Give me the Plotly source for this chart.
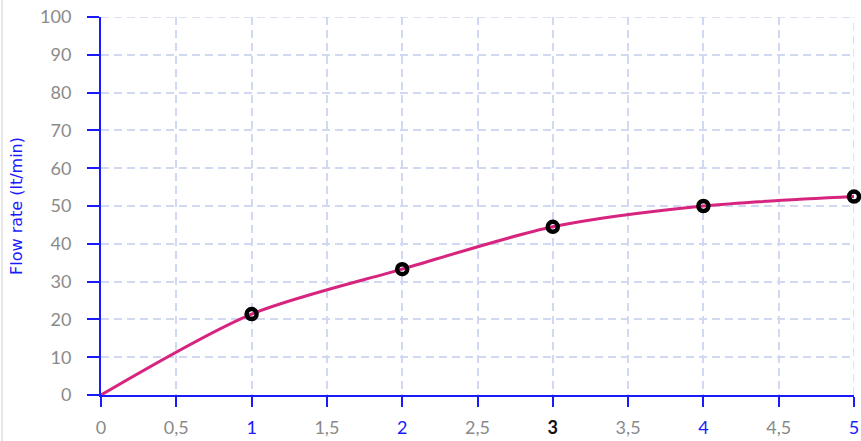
import plotly.graph_objects as go

x_vals = [0, 1, 2, 3, 4, 5]
flow = [0, 21.4, 33.3, 44.5, 50.0, 52.5]
marker_x = [1, 2, 3, 4, 5]
marker_y = [21.4, 33.3, 44.5, 50.0, 52.5]

x_ticks = [0, 0.5, 1, 1.5, 2, 2.5, 3, 3.5, 4, 4.5, 5]
x_tick_text = ["0", "0,5", "<span style='color:#1a1aff'>1</span>", "1,5",
               "<span style='color:#1a1aff'>2</span>", "2,5",
               "<b><span style='color:#111111'>3</span></b>", "3,5",
               "<span style='color:#1a1aff'>4</span>", "4,5",
               "<span style='color:#1a1aff'>5</span>"]
y_ticks = [0, 10, 20, 30, 40, 50, 60, 70, 80, 90, 100]

FONT = "Lato, 'Noto Sans', sans-serif"
GRID = "#d0d8f2"
GRIDDASH = "8px,5px"

fig = go.Figure()
fig.add_trace(go.Scatter(x=x_vals, y=flow, mode="lines",
                         line=dict(color="#d6247f", width=3, shape="spline", smoothing=0.8),
                         showlegend=False, hoverinfo="skip", cliponaxis=False))
fig.add_trace(go.Scatter(x=marker_x, y=marker_y, mode="markers",
                         marker=dict(symbol="circle-open", size=10, color="#000000",
                                     line=dict(width=4.5, color="#000000")),
                         showlegend=False, cliponaxis=False))

fig.update_layout(
    width=861, height=441,
    margin=dict(l=101, r=7, t=17, b=46, autoexpand=False),
    paper_bgcolor="white", plot_bgcolor="white",
    font=dict(family=FONT, size=18, color="#8a8a8a"),
    xaxis=dict(range=[0, 5], tickvals=x_ticks, ticktext=x_tick_text, automargin=False,
               showgrid=True, gridcolor=GRID, griddash=GRIDDASH, gridwidth=1.5,
               showline=True, linecolor="#1a1aff", linewidth=2,
               ticks="outside", ticklen=10, tickwidth=2, tickcolor="#1a1aff",
               ticklabelstandoff=5, zeroline=False, ticklabeloverflow="allow",
               tickfont=dict(family=FONT, size=18, color="#8a8a8a")),
    yaxis=dict(range=[0, 100], tickvals=y_ticks, automargin=False,
               showgrid=True, gridcolor=GRID, griddash=GRIDDASH, gridwidth=1.5,
               showline=True, linecolor="#1a1aff", linewidth=2,
               ticks="outside", ticklen=12, tickwidth=2, tickcolor="#1a1aff",
               ticklabelstandoff=12, zeroline=False, ticklabeloverflow="allow",
               title=dict(text="Flow rate (lt/min)", standoff=13,
                          font=dict(family="DejaVu Sans, sans-serif", size=16, color="#1a1aff")),
               tickfont=dict(family=FONT, size=18, color="#8a8a8a")),
    shapes=[
        dict(type="line", xref="paper", yref="paper",
             x0=-0.1315, x1=-0.1315, y0=-0.2, y1=1.1,
             line=dict(color="#cccccc", width=1)),
        dict(type="line", xref="paper", yref="y", x0=0, x1=1,
             y0=max(y_ticks), y1=max(y_ticks), layer="below",
             line=dict(color=GRID, width=1.5, dash=GRIDDASH)),
        dict(type="line", xref="x", yref="paper", x0=max(x_ticks), x1=max(x_ticks),
             y0=0, y1=1, layer="below",
             line=dict(color=GRID, width=1.5, dash=GRIDDASH)),
    ],
)

fig.write_html("out.html", post_script="document.body.style.margin='0';",
               config={"displayModeBar": False})
